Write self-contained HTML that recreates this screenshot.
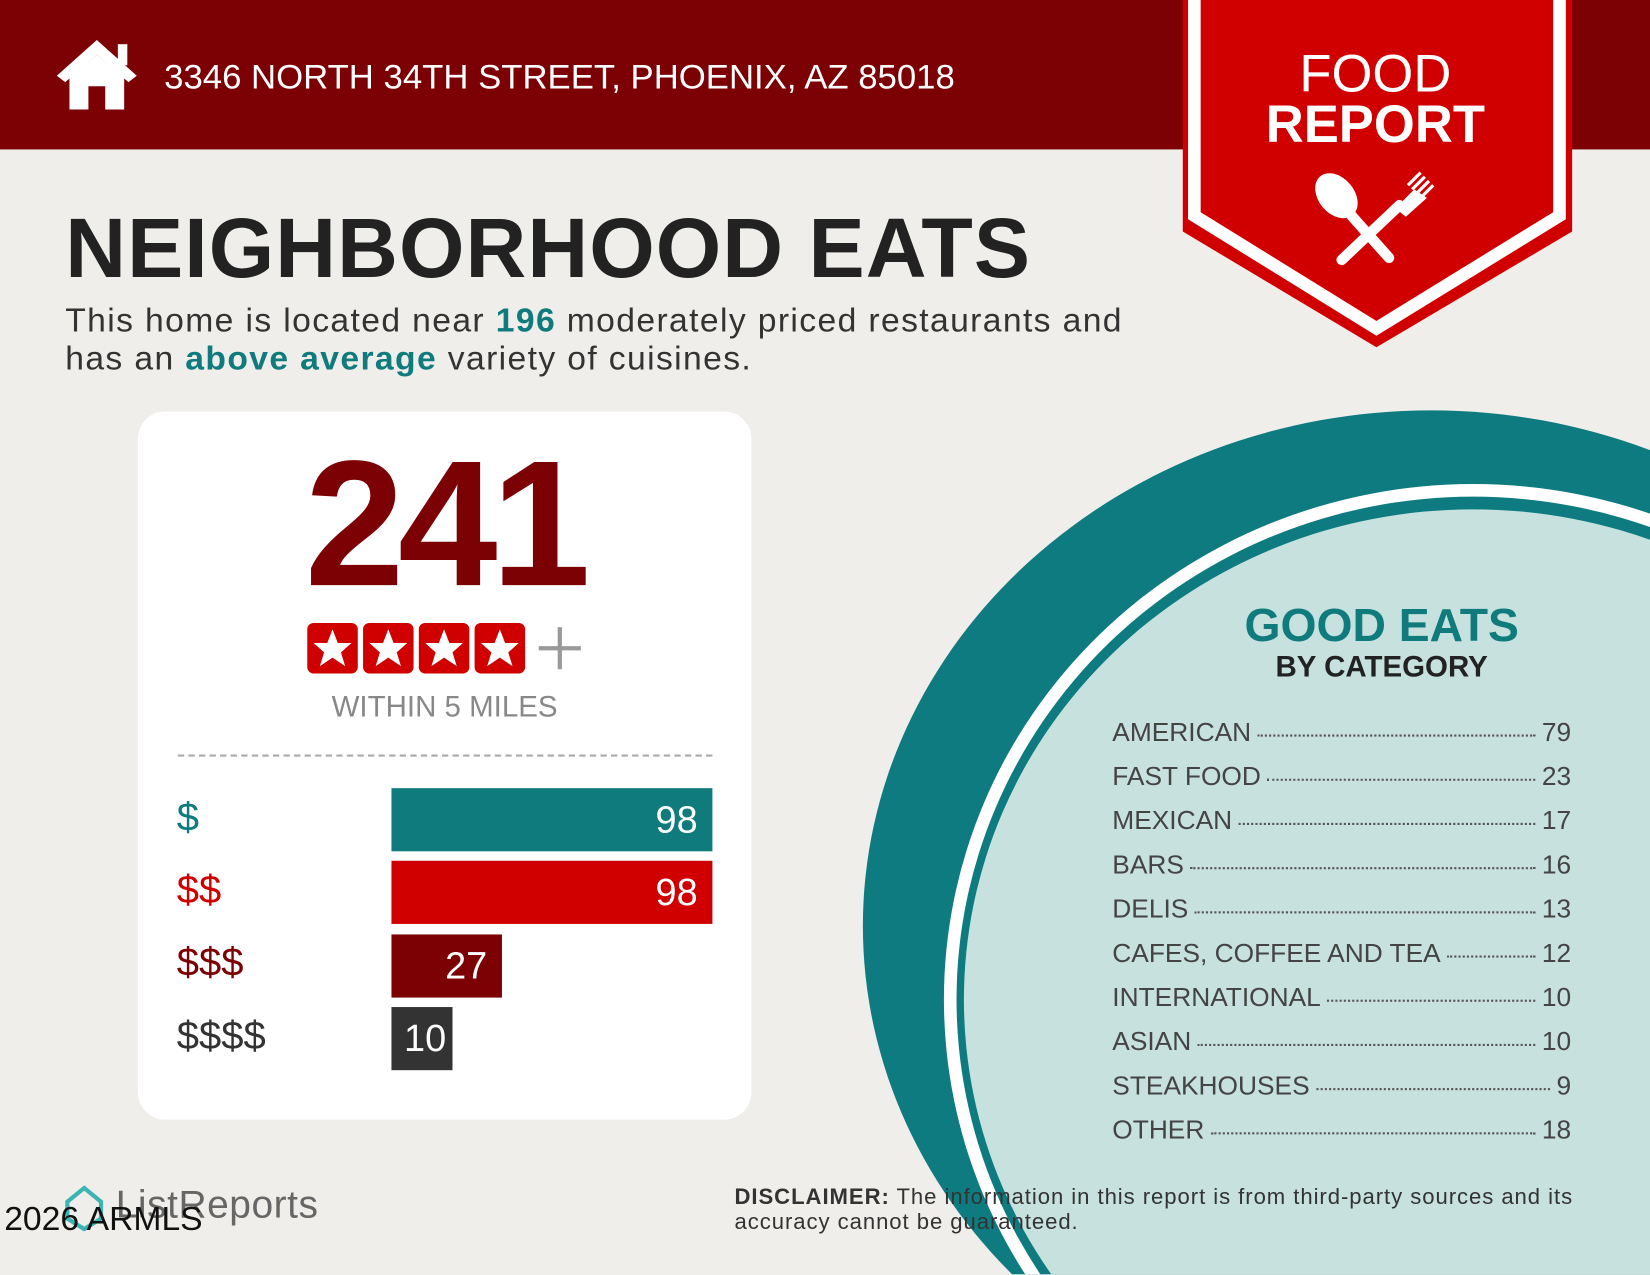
<!DOCTYPE html>
<html><head><meta charset="utf-8"><style>
html,body{margin:0;padding:0;width:1650px;height:1275px;overflow:hidden;background:#f0eeeb}
#w{position:absolute;left:0;top:0;width:1568px;height:1211px;transform:scale(1.05230);transform-origin:0 0;font-family:"Liberation Sans",sans-serif;overflow:hidden;background:#f0eeeb}
.a{position:absolute;white-space:nowrap}
.row{position:absolute;left:1057px;width:436px;font-size:25px;color:#444;display:flex;align-items:baseline}
.row .d{flex:1;border-bottom:2px dotted #555;margin:0 6px;transform:translateY(-4px)}
.bar{position:absolute;left:372px;height:60px;color:#fff;font-size:36px;text-align:right;box-sizing:border-box;padding-right:14px;line-height:60px}
.lab{position:absolute;left:168px;font-size:38px}
</style></head><body><div id="w">
<div class="a" style="left:0;top:0;width:1568px;height:142px;background:#7c0104"></div>
<svg class="a" style="left:52px;top:34px" width="80" height="72" viewBox="0 0 80 72"><path d="M40 4 L2 38 L10 44 L40 18 L70 44 L78 38 Z" fill="#fff"/><rect x="60" y="8" width="9" height="20" fill="#fff"/><path d="M14 40 L40 18 L66 40 L66 70 L48 70 L48 48 L32 48 L32 70 L14 70Z" fill="#fff"/></svg>
<div class="a" style="left:156px;top:54px;font-size:33px;color:#fff">3346 NORTH 34TH STREET, PHOENIX, AZ 85018</div>
<svg class="a" style="left:1120px;top:0" width="380" height="340"><polygon points="4,0 374,0 374,220 188,330 4,220" fill="#d00000"/><polyline points="15,0 15,205 188,312 362,205 362,0" fill="none" stroke="#fff" stroke-width="12"/>
<g fill="#fff"><ellipse cx="150" cy="186" rx="17" ry="24" transform="rotate(-40 150 186)"/><path d="M160 200 L200 245" stroke="#fff" stroke-width="10" stroke-linecap="round"/><path d="M210 195 L155 247" stroke="#fff" stroke-width="10" stroke-linecap="round"/><path d="M206 198 L224 180 L236 188 L216 206Z"/><path d="M222 180 L234 168 M226 184 L238 172 M230 188 L242 176 M218 176 L230 164" stroke="#fff" stroke-width="3"/></g></svg>
<div class="a" style="left:1120px;top:46px;width:374px;text-align:center;font-size:50px;color:#fff;line-height:48px">FOOD<br><b>REPORT</b></div>
<div class="a" style="left:62px;top:190px;font-size:80px;font-weight:bold;color:#222;letter-spacing:1px">NEIGHBORHOOD EATS</div>
<div class="a" style="left:62px;top:286px;font-size:32px;color:#333;line-height:36px;letter-spacing:1.3px">This home is located near <b style="color:#0f7b7d">196</b> moderately priced restaurants and<br>has an <b style="color:#0f7b7d">above average</b> variety of cuisines.</div>
<svg class="a" style="left:0;top:0" width="1568" height="1211"><ellipse cx="1360" cy="880" rx="540" ry="490" fill="#0d7b7f"/><ellipse cx="1400" cy="950" rx="503" ry="490" fill="#fff"/><ellipse cx="1400" cy="950" rx="491" ry="478" fill="#0d7b7f"/><ellipse cx="1400" cy="950" rx="484" ry="466" fill="#c6e1de"/></svg>
<div class="a" style="left:1130px;top:570px;width:366px;text-align:center;font-size:44px;font-weight:bold;color:#0f7b7d">GOOD EATS</div>
<div class="a" style="left:1130px;top:618px;width:366px;text-align:center;font-size:28px;font-weight:bold;color:#222">BY CATEGORY</div>
<div class="row" style="top:682px"><span>AMERICAN</span><span class="d"></span><span>79</span></div>
<div class="row" style="top:724px"><span>FAST FOOD</span><span class="d"></span><span>23</span></div>
<div class="row" style="top:766px"><span>MEXICAN</span><span class="d"></span><span>17</span></div>
<div class="row" style="top:808px"><span>BARS</span><span class="d"></span><span>16</span></div>
<div class="row" style="top:850px"><span>DELIS</span><span class="d"></span><span>13</span></div>
<div class="row" style="top:892px"><span>CAFES, COFFEE AND TEA</span><span class="d"></span><span>12</span></div>
<div class="row" style="top:934px"><span>INTERNATIONAL</span><span class="d"></span><span>10</span></div>
<div class="row" style="top:976px"><span>ASIAN</span><span class="d"></span><span>10</span></div>
<div class="row" style="top:1018px"><span>STEAKHOUSES</span><span class="d"></span><span>9</span></div>
<div class="row" style="top:1060px"><span>OTHER</span><span class="d"></span><span>18</span></div>
<div class="a" style="left:131px;top:391px;width:583px;height:673px;background:#fff;border-radius:26px"></div>
<div class="a" style="left:131px;top:400px;width:583px;text-align:center;font-size:170px;font-weight:bold;color:#7c0104;letter-spacing:-6px">241</div>
<svg class="a" style="left:290px;top:590px" width="270" height="54">
<g fill="#d00000"><rect x="2" y="2" width="48" height="48" rx="6"/><rect x="55" y="2" width="48" height="48" rx="6"/><rect x="108" y="2" width="48" height="48" rx="6"/><rect x="161" y="2" width="48" height="48" rx="6"/></g>
<g fill="#fff"><polygon id="s" points="26,8 31,21 44,21 34,30 38,43 26,35 14,43 18,30 8,21 21,21"/><use href="#s" x="53"/><use href="#s" x="106"/><use href="#s" x="159"/></g>
<path d="M242 6 V46 M222 26 H262" stroke="#999" stroke-width="4"/></svg>
<div class="a" style="left:131px;top:656px;width:583px;text-align:center;font-size:28px;color:#888">WITHIN 5 MILES</div>
<div class="a" style="left:169px;top:717px;width:508px;border-top:2px dashed #aaa"></div>
<div class="lab" style="top:756px;color:#0f7b7d">$</div>
<div class="lab" style="top:825px;color:#d00000">$$</div>
<div class="lab" style="top:894px;color:#7c0104">$$$</div>
<div class="lab" style="top:964px;color:#333">$$$$</div>
<div class="bar" style="top:749px;width:305px;background:#0f7b7d">98</div>
<div class="bar" style="top:818px;width:305px;background:#d00000">98</div>
<div class="bar" style="top:888px;width:105px;background:#7c0104">27</div>
<div class="bar" style="top:957px;width:58px;background:#333;padding-right:6px">10</div>
<svg class="a" style="left:60px;top:1126px" width="40" height="44"><path d="M20 3 L36 16 V32 L20 42 L4 32 V16Z" fill="none" stroke="#3bb4b4" stroke-width="4"/></svg>
<div class="a" style="left:110px;top:1124px;font-size:37px;color:#666;letter-spacing:0.5px">ListReports</div>
<div class="a" style="left:4px;top:1140px;font-size:32px;color:#111">2026 ARMLS</div>
<div class="a" style="left:698px;top:1126px;font-size:21px;color:#333;line-height:24px;letter-spacing:0.9px"><b>DISCLAIMER:</b> The information in this report is from third-party sources and its<br>accuracy cannot be guaranteed.</div>
</div></body></html>
